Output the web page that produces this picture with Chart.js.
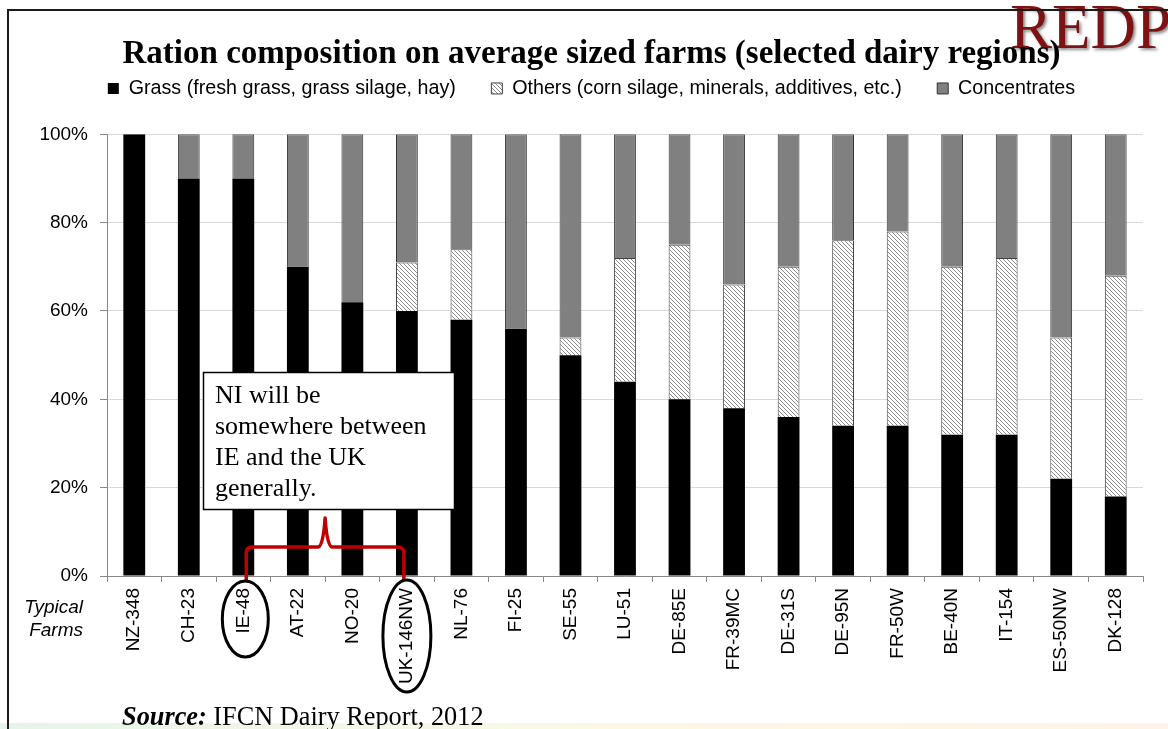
<!DOCTYPE html>
<html>
<head>
<meta charset="utf-8">
<title>Ration composition on average sized farms</title>
<script src="https://cdn.jsdelivr.net/npm/chart.js@4.4.1/dist/chart.umd.min.js"></script>
<style>
  html, body { margin: 0; padding: 0; background: #fff; }
  #wrap { position: relative; width: 1168px; height: 729px; }
</style>
</head>
<body>
<div id="wrap"><canvas id="chart"></canvas></div>
<script>
// data (% of ration)
const farms = ['NZ-348', 'CH-23', 'IE-48', 'AT-22', 'NO-20', 'UK-146NW', 'NL-76', 'FI-25', 'SE-55', 'LU-51',
  'DE-85E', 'FR-39MC', 'DE-31S', 'DE-95N', 'FR-50W', 'BE-40N', 'IT-154', 'ES-50NW', 'DK-128'];
const grass        = [100, 90, 90, 70, 62, 60, 58, 56, 50, 44, 40, 38, 36, 34, 34, 32, 32, 22, 18];
const others       = [0, 0, 0, 0, 0, 11, 16, 0, 4, 28, 35, 28, 34, 42, 44, 38, 40, 32, 50];
const concentrates = [0, 10, 10, 30, 38, 29, 26, 44, 46, 28, 25, 34, 30, 24, 22, 30, 28, 46, 32];
const yTicks = [0, 20, 40, 60, 80, 100];

const seriesNames = ['Grass (fresh grass, grass silage, hay)', 'Others (corn silage, minerals, additives, etc.)', 'Concentrates'];
const titleText = 'Ration composition on average sized farms (selected dairy regions)';
const noteLines = ['NI will be', 'somewhere between', 'IE and the UK', 'generally.'];
const circled = ['IE-48', 'UK-146NW'];

Chart.defaults.font.family = '"Liberation Sans", Arial, sans-serif';
Chart.defaults.color = '#000';

const canvas = document.getElementById('chart');

function hatch() {
  const c = document.createElement('canvas');
  c.width = 4; c.height = 4;
  const g = c.getContext('2d');
  g.fillStyle = '#fff';
  g.fillRect(0, 0, 4, 4);
  g.strokeStyle = '#8c8c8c';
  g.lineWidth = 1;
  g.beginPath();
  g.moveTo(0, 0); g.lineTo(4, 4);
  g.moveTo(-1, 3); g.lineTo(1, 5);
  g.moveTo(3, -1); g.lineTo(5, 1);
  g.stroke();
  return canvas.getContext('2d').createPattern(c, 'repeat');
}

const extras = {
  id: 'extras',
  beforeDraw(chart) {
    const ctx = chart.ctx;
    ctx.save();
    ctx.fillStyle = '#fff';
    ctx.fillRect(0, 0, chart.width, chart.height);
    const gr = ctx.createLinearGradient(0, 0, chart.width, 0);
    gr.addColorStop(0, '#e6f3ea');
    gr.addColorStop(0.5, '#fbf9e2');
    gr.addColorStop(1, '#fdf3e6');
    ctx.fillStyle = gr;
    ctx.fillRect(0, 723, chart.width, 6);
    // logo behind the title
    ctx.font = '63px "Liberation Serif", serif';
    ctx.textBaseline = 'alphabetic';
    ctx.shadowColor = 'rgba(0,0,0,0.45)';
    ctx.shadowOffsetX = 2; ctx.shadowOffsetY = 2; ctx.shadowBlur = 3;
    ctx.fillStyle = '#7d1214';
    ctx.fillText('REDP', 1010, 48);
    ctx.restore();
    // frame
    ctx.save();
    ctx.strokeStyle = '#1a1a1a';
    ctx.lineWidth = 2;
    ctx.beginPath();
    ctx.moveTo(8, 729); ctx.lineTo(8, 10); ctx.lineTo(1168, 10);
    ctx.stroke();
    ctx.restore();
  },
  afterDraw(chart) {
    const {ctx, scales: {x, y}} = chart;
    const base = y.getPixelForValue(0);
    ctx.save();

    // note box
    ctx.fillStyle = '#fff';
    ctx.fillRect(203, 372, 252, 138);
    ctx.strokeStyle = '#000';
    ctx.lineWidth = 1.5;
    ctx.strokeRect(203.5, 372.5, 251, 137);
    ctx.fillStyle = '#000';
    ctx.font = '26px "Liberation Serif", serif';
    ctx.textBaseline = 'alphabetic';
    noteLines.forEach((t, i) => ctx.fillText(t, 215, 403 + i * 31));

    // red bracket between the circled farms
    const xa = x.getPixelForValue(farms.indexOf(circled[0])) + 3;
    const xb = x.getPixelForValue(farms.indexOf(circled[1])) - 3;
    const xm = (xa + xb) / 2;
    const yh = 547;
    ctx.strokeStyle = '#c00000';
    ctx.lineWidth = 3.5;
    ctx.lineJoin = 'round';
    ctx.beginPath();
    ctx.moveTo(xa, base + 5);
    ctx.lineTo(xa, yh + 6);
    ctx.quadraticCurveTo(xa, yh, xa + 6, yh);
    ctx.lineTo(xm - 7, yh);
    ctx.quadraticCurveTo(xm - 2, yh, xm, 518);
    ctx.quadraticCurveTo(xm + 2, yh, xm + 7, yh);
    ctx.lineTo(xb - 6, yh);
    ctx.quadraticCurveTo(xb, yh, xb, yh + 6);
    ctx.lineTo(xb, base + 5);
    ctx.stroke();

    // ellipses round the two labels
    ctx.strokeStyle = '#000';
    ctx.lineWidth = 3;
    ctx.beginPath();
    ctx.ellipse(x.getPixelForValue(farms.indexOf(circled[0])) + 2, 619, 23, 38, 0, 0, Math.PI * 2);
    ctx.stroke();
    ctx.beginPath();
    ctx.ellipse(x.getPixelForValue(farms.indexOf(circled[1])), 636, 24, 56, 0, 0, Math.PI * 2);
    ctx.stroke();

    // axis caption
    ctx.fillStyle = '#000';
    ctx.font = 'italic 19px "Liberation Sans", Arial, sans-serif';
    ctx.textAlign = 'right';
    ctx.textBaseline = 'middle';
    ctx.fillText('Typical', 83, 608);
    ctx.fillText('Farms', 83, 631);

    // source line
    ctx.textAlign = 'left';
    ctx.textBaseline = 'alphabetic';
    ctx.font = 'italic bold 26.3px "Liberation Serif", serif';
    ctx.fillText('Source:', 122, 725);
    const w = ctx.measureText('Source:').width;
    ctx.font = '26.3px "Liberation Serif", serif';
    ctx.fillText(' IFCN Dairy Report, 2012', 122 + w, 725);
    ctx.restore();
  }
};

new Chart(canvas, {
  type: 'bar',
  data: {
    labels: farms,
    datasets: [
      { label: seriesNames[0], data: grass, backgroundColor: '#000', borderColor: '#000', borderWidth: 0 },
      { label: seriesNames[1], data: others, backgroundColor: hatch(), borderColor: '#404040', borderWidth: 1 },
      { label: seriesNames[2], data: concentrates, backgroundColor: '#808080', borderColor: '#333', borderWidth: 1 }
    ]
  },
  options: {
    responsive: true,
    maintainAspectRatio: false,
    animation: false,
    datasets: { bar: { categoryPercentage: 1, barPercentage: 0.4 } },
    layout: { padding: { top: 35, left: 40, right: 25, bottom: 0 } },
    plugins: {
      title: {
        display: true,
        text: titleText,
        color: '#000',
        font: { family: '"Liberation Serif", "Times New Roman", serif', size: 33, weight: 'bold' },
        padding: { top: 0, bottom: 0 }
      },
      legend: {
        display: true,
        position: 'top',
        labels: {
          color: '#000',
          font: { size: 19.7 },
          boxWidth: 11,
          boxHeight: 11,
          padding: 4,
          generateLabels(chart) {
            const items = Chart.defaults.plugins.legend.labels.generateLabels(chart);
            items.forEach((it, i) => { if (i < items.length - 1) it.text += '\u2002\u2002\u2009\u2009\u2009'; });
            return items;
          }
        }
      },
      tooltip: { enabled: false }
    },
    scales: {
      x: {
        stacked: true,
        grid: { offset: true, drawOnChartArea: false, drawTicks: true, tickLength: 6, color: '#888' },
        border: { color: '#888' },
        ticks: { maxRotation: 90, minRotation: 90, autoSkip: false, padding: 6, font: { size: 19 }, color: '#000' },
        afterFit(s) { s.height = 153; }
      },
      gap: {
        type: 'category',
        labels: farms,
        position: 'top',
        display: true,
        grid: { display: false },
        border: { display: false },
        ticks: { display: false },
        afterFit(s) { s.height = 26; }
      },
      y: {
        stacked: true,
        min: 0,
        max: 100,
        afterBuildTicks(s) { s.ticks = yTicks.map(v => ({ value: v })); },
        grid: { color: '#d9d9d9', tickColor: '#888', tickLength: 7 },
        border: { color: '#888' },
        ticks: { padding: 12, font: { size: 19 }, color: '#000', callback: v => v + '%' },
        afterFit(s) { s.width = 67; }
      }
    }
  },
  plugins: [extras]
});
</script>
</body>
</html>
